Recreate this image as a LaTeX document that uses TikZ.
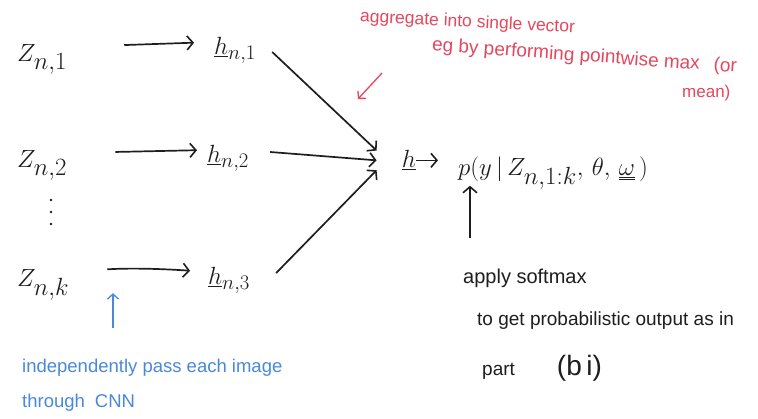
\documentclass[tikz,border=0pt]{standalone}
\usepackage[no-math]{fontspec}
\newfontfamily\hand{Liberation Sans}
\usetikzlibrary{arrows.meta}
\definecolor{ink}{HTML}{1E1E1E}
\definecolor{redink}{HTML}{E5475E}
\definecolor{blueink}{HTML}{4A88DA}
\begin{document}
\begin{tikzpicture}[x=1pt,y=-1pt,
  arr/.style={-{Straight Barb[length=6pt,width=14pt,line width=1.6pt]}, line width=1.7pt, draw=ink},
  zlab/.style={font=\fontsize{40}{44}\selectfont, text=ink, inner sep=0pt, anchor=base west, text height=30pt, text depth=0pt},
  hlab/.style={font=\fontsize{32}{36}\selectfont, text=ink, inner sep=0pt, anchor=base west, text height=26pt, text depth=0pt},
  note/.style={font=\hand\fontsize{#1}{#1}\selectfont, inner sep=0pt, anchor=west},
  rednote/.style={note=#1, text=redink},
  bluenote/.style={note=#1, text=blueink},
  blacknote/.style={note=#1, text=ink},
  dotmark/.style={fill=ink}]
\useasboundingbox[fill=white] (0,0) rectangle (758,419);

% left column
\node[zlab] (z1) at (17,62) {$Z_{n,1}$};
\node[zlab] (z2) at (17,168) {$Z_{n,2}$};
\node[zlab] (zk) at (17,287) {$Z_{n,k}$};
\fill[dotmark] (51,200) circle (1.3pt) (51,212) circle (1.3pt) (51,224) circle (1.3pt);

% h column
\node[hlab] (h1) at (214,55) {$\underline{h}_{n,1}$};
\node[hlab] (h2) at (207,163) {$\underline{h}_{n,2}$};
\node[hlab] (h3) at (208,285) {$\underline{h}_{n,3}$};

% aggregate
\node[font=\fontsize{36}{40}\selectfont, text=ink, inner sep=0pt, text width=39pt, align=right, anchor=base east] (h) at (416,168) {$\underline{h}$};
\node[font=\fontsize{33}{36}\selectfont, text=ink, inner sep=0pt, anchor=base west] (p) at (458,176) {$p(y\,|\,Z_{n,1:k},\,\theta,\,\underline{\underline{\omega}}\,)$};

\draw[arr, shorten <=57pt, shorten >=20pt] (z1.east) -- (h1.west);
\draw[arr, shorten <=48pt, shorten >=10pt] (z2.east) -- (h2.west);
\draw[arr, shorten <=38pt, shorten >=18pt] (zk.east) to[bend left=4] (h3.west);

\draw[arr] ([shift={(16,10)}]h1.east) -- (h.north west);
\draw[arr] ([shift={(21,2)}]h2.east) -- (h.west);
\draw[arr] ([shift={(26,1)}]h3.east) -- (h.south west);
\draw[arr, shorten >=20pt] (h.east) -- (h.east -| p.west);

% softmax annotation
\coordinate (upfoot) at (470,238);
\draw[arr, shorten >=-4pt] (upfoot) -- (upfoot |- p.south);
\node[blacknote=20] (soft) at (463,278) {apply softmax};
\node[blacknote=19] (toget) at (477,321) {to get probabilistic output as in};
\node[blacknote=19] (part) at (482,368) {part\hspace{42pt}{\fontsize{28}{28}\selectfont(b\,i)}};

% red annotation
\node[rednote=17.5, rotate=-3, anchor=west] (agg) at (360,17) {aggregate into single vector};
\node[rednote=19, rotate=-4] (eg) at (432,46) {eg by performing pointwise max\hspace{14pt}(or};
\node[rednote=17] (mean) at (682,93) {mean)};
\coordinate (ra1) at (382,73);
\coordinate (ra2) at (358,99);
\draw[-{Straight Barb[length=5pt,width=11pt]}, line width=1.3pt, draw=redink] (ra1) -- (ra2);

% blue annotation
\coordinate (bfoot) at (113,328);
\draw[-{Straight Barb[length=5pt,width=11pt]}, line width=1.3pt, draw=blueink, shorten >=6pt] (bfoot) -- (bfoot |- zk.south);
\node[bluenote=18.5] (ind) at (22,368) {independently pass each image};
\node[bluenote=18.5] (thr) at (22,403) {through\hspace{10pt}CNN};
\end{tikzpicture}
\end{document}
